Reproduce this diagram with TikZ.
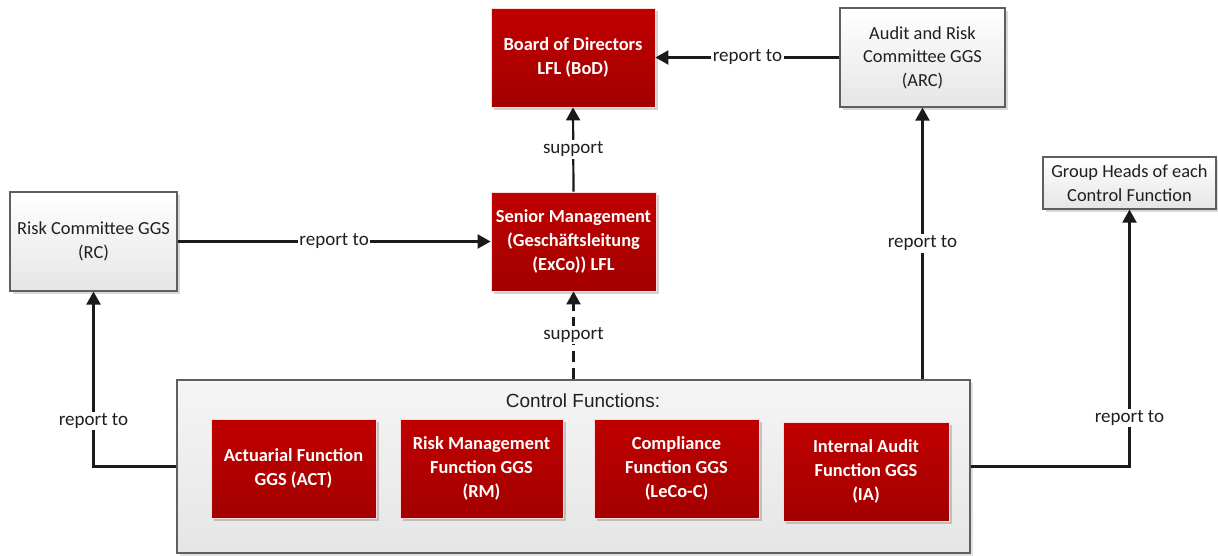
\documentclass[tikz,border=0pt]{standalone}
\usepackage{fontspec}
\setmainfont{Carlito}
\newfontfamily\arialfont{Liberation Sans}
\usetikzlibrary{arrows.meta,shadows}
\definecolor{redtop}{HTML}{C00000}
\definecolor{redbot}{HTML}{A30000}
\definecolor{linec}{HTML}{1A1A1A}
\definecolor{txtc}{HTML}{1F1F1F}
\definecolor{grayborder}{HTML}{5F5F5F}
\tikzset{
  x=1pt,y=-1pt,
  redbox/.style={rectangle, top color=redtop, bottom color=redbot, draw=white!85!red, line width=0.8pt,
    text=white, font=\fontsize{18.4}{24}\selectfont\bfseries, align=center, inner sep=2pt,
    drop shadow={shadow xshift=3pt, shadow yshift=-3pt, fill=black, opacity=0.18}},
  graybox/.style={rectangle, top color=white, bottom color=black!10, draw=grayborder, line width=1.2pt,
    text=txtc, font=\fontsize{18.4}{23.5}\selectfont, align=center, inner sep=2pt,
    drop shadow={shadow xshift=3pt, shadow yshift=-3pt, fill=black, opacity=0.15}},
  cfbox/.style={rectangle, top color=black!4, bottom color=black!10, draw=grayborder, line width=1.2pt,
    drop shadow={shadow xshift=3pt, shadow yshift=-3pt, fill=black, opacity=0.12}},
  arr/.style={draw=linec, line width=2.2pt, -{Triangle[length=13pt,width=14pt]}},
  lbl/.style={fill=white, text=txtc, font=\fontsize{19}{22}\selectfont, inner sep=1.5pt},
}
\begin{document}
\begin{tikzpicture}
\useasboundingbox (0,0) rectangle (1218,555);
\fill[white] (0,0) rectangle (1218,555);
% boxes
\node[redbox, minimum width=164, minimum height=99] (BoD) at (573,57.5) {Board of Directors\\LFL (BoD)};
\node[graybox, minimum width=165, minimum height=99] (ARC) at (922.5,57.5) {Audit and Risk\\Committee GGS\\(ARC)};
\node[redbox, minimum width=165, minimum height=99] (SM) at (573.5,241.5) {Senior Management\\(Geschäftsleitung\\(ExCo)) LFL};
\node[graybox, minimum width=167, minimum height=99] (RC) at (93.5,241.5) {Risk Committee GGS\\(RC)};
\node[graybox, minimum width=173, minimum height=52] (GH) at (1129.5,183) {Group Heads of each\\Control Function};
\node[cfbox, minimum width=793, minimum height=173] (CF) at (573.5,466.5) {};
\node[text=txtc, font=\arialfont\fontsize{19}{22}\selectfont, inner sep=0pt] (CFt) at (583,401) {Control Functions:};
\node[redbox, minimum width=165, minimum height=99] (ACT) at (293.5,468.5) {Actuarial Function\\GGS (ACT)};
\node[redbox, minimum width=163, minimum height=99] (RM) at (481.5,468.5) {Risk Management\\Function GGS\\(RM)};
\node[redbox, minimum width=165, minimum height=99] (CO) at (676.5,468.5) {Compliance\\Function GGS\\(LeCo-C)};
\node[redbox, minimum width=166, minimum height=99] (IA) at (866,471.5) {Internal Audit\\Function GGS\\(IA)};
% connectors
\draw[arr] (ARC.west) -- node[lbl]{report to} (BoD.east);
\draw[arr] (SM.north) -- node[lbl]{support} (BoD.south);
\draw[arr] (RC.east) -- node[lbl]{report to} (SM.west);
\draw[arr, dash pattern=on 11pt off 6pt] (CF.north -| SM.south) -- node[lbl]{support} (SM.south);
\draw[arr] (CF.west) -| node[lbl, pos=0.63]{report to} (RC.south);
\draw[arr] (CF.north -| ARC.south) -- node[lbl]{report to} (ARC.south);
\draw[arr] (CF.east) -| node[lbl, pos=0.595]{report to} (GH.south);
\end{tikzpicture}
\end{document}
